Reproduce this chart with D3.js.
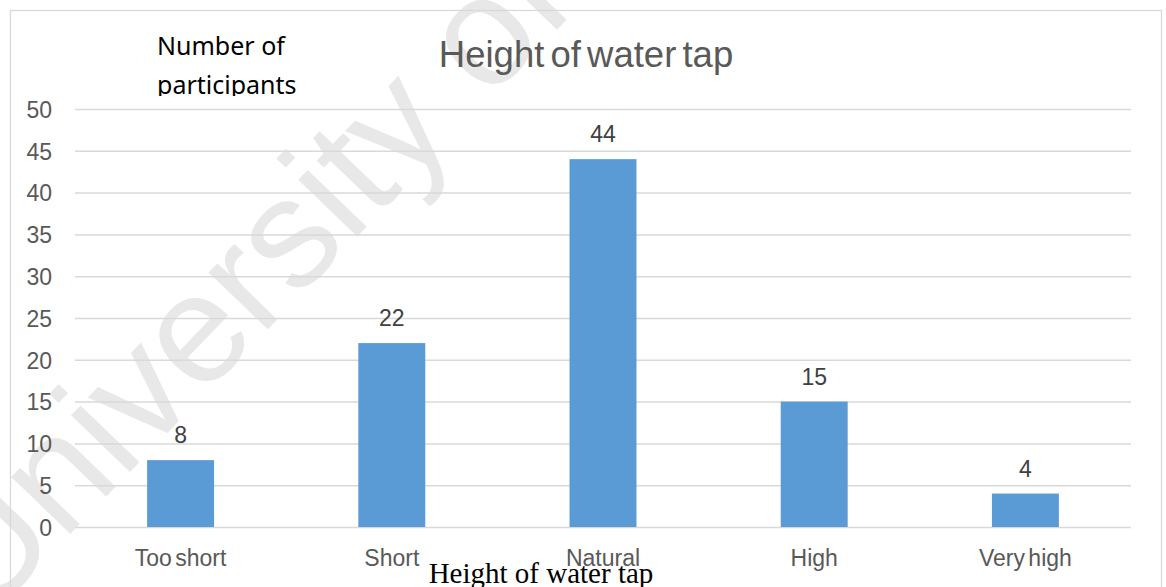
<!DOCTYPE html>
<html>
<head>
<meta charset="utf-8">
<script src="https://cdn.jsdelivr.net/npm/d3@7"></script>
<style>
  html, body { margin: 0; padding: 0; background: #fff; }
  svg { display: block; }
</style>
</head>
<body>
<svg id="chart" width="1166" height="587"></svg>
<script>
// Survey responses: how participants rated the height of the water tap
const categories = ["Too short", "Short", "Natural", "High", "Very high"];
const participants = [8, 22, 44, 15, 4];
const yTicks = [0, 5, 10, 15, 20, 25, 30, 35, 40, 45, 50];

const plot = { left: 75, right: 1131, top: 109, bottom: 527 };
const sans = "Liberation Sans, Arial, sans-serif";

const svg = d3.select("#chart");

// Page watermark, drawn underneath the chart
svg.append("text")
  .attr("transform", "translate(-15,622) rotate(-46)")
  .attr("font-family", sans)
  .attr("font-size", 155)
  .attr("fill", "#e8e8e8")
  .text("University of Cape Town");

// Chart frame
svg.append("rect")
  .attr("x", 10.5).attr("y", 10.5)
  .attr("width", 1151).attr("height", 600)
  .attr("fill", "none")
  .attr("stroke", "#d9d9d9")
  .attr("stroke-width", 1.3);

const x = d3.scaleBand()
  .domain(categories)
  .range([plot.left, plot.right])
  .paddingInner(0.683)
  .paddingOuter(0.3415);

const y = d3.scaleLinear()
  .domain([0, 50])
  .range([plot.bottom, plot.top]);

// Horizontal gridlines with value labels on the left
const yAxis = d3.axisLeft(y)
  .tickValues(yTicks)
  .tickSize(-(plot.right - plot.left))
  .tickPadding(23)
  .tickFormat(d3.format("d"));

const gy = svg.append("g")
  .attr("transform", `translate(${plot.left},0)`)
  .call(yAxis);
gy.select(".domain").remove();
gy.selectAll(".tick line")
  .attr("stroke", "#d9d9d9")
  .attr("stroke-width", 1.5);
gy.selectAll(".tick text")
  .attr("fill", "#595959")
  .attr("font-family", sans)
  .attr("font-size", 23)
  .attr("dy", "0.36em");

// Category labels along the bottom
const xAxis = d3.axisBottom(x).tickSize(0).tickPadding(0);
const gx = svg.append("g")
  .attr("transform", `translate(0,${plot.bottom})`)
  .call(xAxis);
gx.select(".domain").remove();
gx.selectAll(".tick text")
  .attr("fill", "#595959")
  .attr("font-family", sans)
  .attr("font-size", 23)
  .attr("word-spacing", "-3px")
  .attr("dy", 0)
  .attr("y", 39);

// Bars
svg.append("g")
  .selectAll("rect")
  .data(participants)
  .join("rect")
  .attr("x", (d, i) => x(categories[i]))
  .attr("y", d => y(d))
  .attr("width", x.bandwidth())
  .attr("height", d => y(0) - y(d))
  .attr("fill", "#5b9bd5");

// Value labels above each bar
svg.append("g")
  .selectAll("text")
  .data(participants)
  .join("text")
  .attr("x", (d, i) => x(categories[i]) + x.bandwidth() / 2)
  .attr("y", d => y(d) - 17)
  .attr("text-anchor", "middle")
  .attr("fill", "#404040")
  .attr("font-family", sans)
  .attr("font-size", 23)
  .text(d => d);

// Chart title
svg.append("text")
  .attr("x", 586)
  .attr("y", 67)
  .attr("text-anchor", "middle")
  .attr("fill", "#595959")
  .attr("font-family", sans)
  .attr("font-size", 36.5)
  .attr("word-spacing", "-4px")
  .text("Height of water tap");

// Vertical axis title, clipped along the bottom of its second line
svg.append("clipPath")
  .attr("id", "ytitle-clip")
  .append("rect")
  .attr("x", 100).attr("y", 20)
  .attr("width", 260).attr("height", 76);

const yTitle = svg.append("text")
  .attr("clip-path", "url(#ytitle-clip)")
  .attr("fill", "#000")
  .attr("font-family", "Noto Sans, Open Sans, sans-serif")
  .attr("font-size", 25);
yTitle.append("tspan").attr("x", 157).attr("y", 55).text("Number of");
yTitle.append("tspan").attr("x", 157).attr("y", 94).text("participants");

// Horizontal axis title
svg.append("text")
  .attr("x", 541)
  .attr("y", 583)
  .attr("text-anchor", "middle")
  .attr("fill", "#000")
  .attr("font-family", "Liberation Serif, Times New Roman, serif")
  .attr("font-size", 29)
  .text("Height of water tap");
</script>
</body>
</html>
